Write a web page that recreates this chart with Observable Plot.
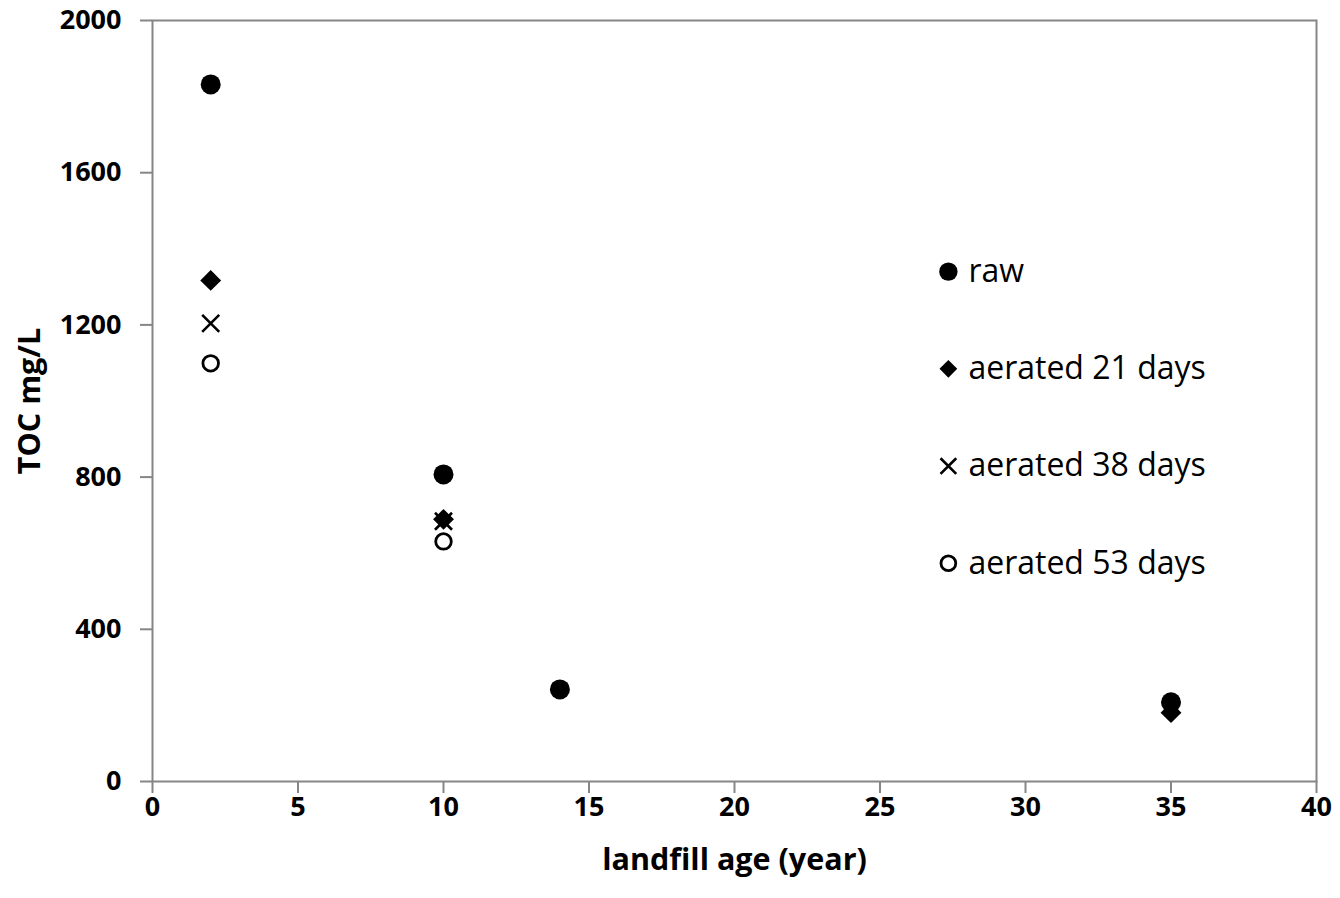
<!DOCTYPE html>
<html>
<head>
<meta charset="utf-8">
<script src="https://cdn.jsdelivr.net/npm/d3@7"></script>
<script src="https://cdn.jsdelivr.net/npm/@observablehq/plot@0.6"></script>
<style>
  html, body { margin: 0; padding: 0; background: #fff; }
  #chart svg { display: block; }
</style>
</head>
<body>
<div id="chart"></div>
<script>
// ---- data ----
const ages = [2, 10, 14, 35];
const raw = [1832, 807, 242, 208];
const aerated21 = [1317, 689, null, 181];
const aerated38 = [1204, 684, null, null];
const aerated53 = [1099, 631, null, null];
const seriesNames = ["raw", "aerated 21 days", "aerated 38 days", "aerated 53 days"];
const xTicks = [0, 5, 10, 15, 20, 25, 30, 35, 40];
const yTicks = [0, 400, 800, 1200, 1600, 2000];

const seriesValues = [raw, aerated21, aerated38, aerated53];
const rows = [];
seriesValues.forEach((vals, si) => {
  vals.forEach((v, i) => {
    if (v != null) rows.push({series: seriesNames[si], age: ages[i], toc: v});
  });
});

// marker styling per series
const styles = {
  "raw": {symbol: "circle", fill: "black", stroke: "none", r: 10, lr: 9.2, strokeWidth: 0},
  "aerated 21 days": {symbol: "diamond2", fill: "black", stroke: "none", r: 9.4, lr: 8, strokeWidth: 0},
  "aerated 38 days": {symbol: "times", fill: "none", stroke: "black", r: 7.8, lr: 7.2, strokeWidth: 2.6},
  "aerated 53 days": {symbol: "circle", fill: "white", stroke: "black", r: 7.8, lr: 7.4, strokeWidth: 2.8}
};

// legend placed inside the plot, in data space
const legendX = 27.35;
const legendRows = seriesNames.map((s, i) => ({series: s, x: legendX, y: 1340 - i * 255.5}));

const axisGray = "#868686";
const font = "'Open Sans', Lato, sans-serif";

const marks = [
  Plot.frame({stroke: axisGray, strokeWidth: 2}),
  Plot.axisX({ticks: xTicks, tickSize: 12, tickPadding: 3, stroke: axisGray, strokeWidth: 2,
    fill: "black", fontSize: 27, fontWeight: "bold", label: null, tickFormat: d => String(d)}),
  Plot.axisY({ticks: yTicks, tickSize: 12, tickPadding: 19, stroke: axisGray, strokeWidth: 2,
    fill: "black", fontSize: 27, fontWeight: "bold", label: null, tickFormat: d => String(d)}),
  Plot.text(["landfill age (year)"], {frameAnchor: "bottom", dy: 79, lineAnchor: "middle", textAnchor: "middle",
    fontSize: 30.5, fontWeight: "bold", fill: "black"}),
  Plot.text(["TOC mg/L"], {frameAnchor: "left", dx: -122, rotate: -90, textAnchor: "middle", lineAnchor: "middle",
    fontSize: 30.5, fontWeight: "bold", fill: "black"})
];

seriesNames.forEach(name => {
  const st = styles[name];
  marks.push(Plot.dot(rows.filter(d => d.series === name), {
    x: "age", y: "toc", symbol: () => st.symbol, r: st.r,
    fill: st.fill, stroke: st.stroke, strokeWidth: st.strokeWidth
  }));
  marks.push(Plot.dot(legendRows.filter(d => d.series === name), {
    x: "x", y: "y", symbol: () => st.symbol, r: st.lr,
    fill: st.fill, stroke: st.stroke, strokeWidth: st.strokeWidth
  }));
});
marks.push(Plot.text(legendRows, {x: "x", y: "y", text: "series", dx: 20, textAnchor: "start",
  lineAnchor: "middle", fontSize: 32, fill: "black"}));

const chart = Plot.plot({
  width: 1340,
  height: 898,
  marginLeft: 152,
  marginRight: 24,
  marginTop: 20,
  marginBottom: 117,
  x: {domain: [0, 40]},
  y: {domain: [0, 2000]},
  symbol: {type: "identity"},
  style: {fontFamily: font, background: "white", color: "black", overflow: "visible"},
  marks
});
document.getElementById("chart").appendChild(chart);
</script>
</body>
</html>
